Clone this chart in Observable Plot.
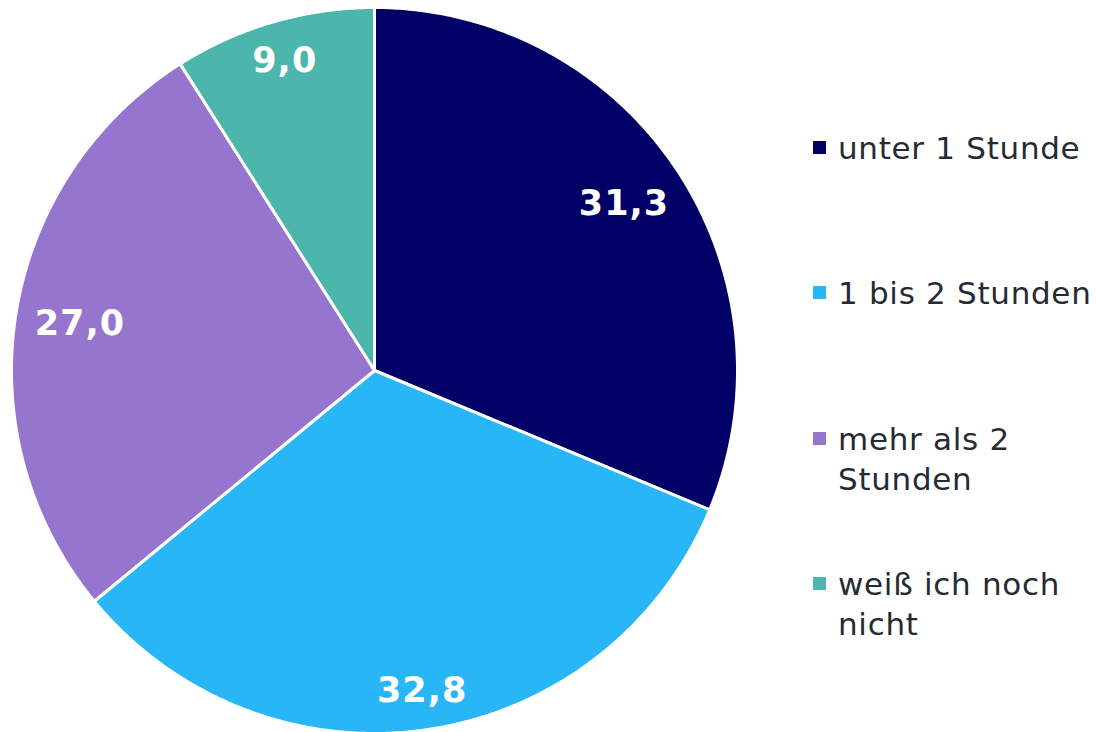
<!DOCTYPE html>
<html>
<head>
<meta charset="utf-8">
<script src="https://cdn.jsdelivr.net/npm/d3@7"></script>
<script src="https://cdn.jsdelivr.net/npm/@observablehq/plot@0.6"></script>
<style>
  html, body { margin: 0; padding: 0; background: #fff; }
  #wrap { position: relative; width: 1096px; height: 732px; overflow: hidden; font-family: "DejaVu Sans", Verdana, sans-serif; }
  #chart svg { display: block; }
  #chart text { letter-spacing: 1px; }
  .legend { position: absolute; left: 813px; top: 128px; color: #262b33; font-size: 31px; line-height: 40px; letter-spacing: 0.7px; }
  .item { position: absolute; left: 0; width: 280px; }
  .sw { position: absolute; left: 0; top: 13px; width: 13px; height: 13px; }
  .lab { position: absolute; left: 25px; top: 0; white-space: nowrap; }
</style>
</head>
<body>
<div id="wrap">
  <div id="chart"></div>
  <div class="legend" id="legend"></div>
</div>
<script>
// ---- data ----
const categories = ["unter 1 Stunde", "1 bis 2 Stunden", "mehr als 2 Stunden", "weiß ich noch nicht"];
const legendLines = [["unter 1 Stunde"], ["1 bis 2 Stunden"], ["mehr als 2", "Stunden"], ["weiß ich noch", "nicht"]];
const values = [31.3, 32.8, 27.0, 9.0];
const labels = ["31,3", "32,8", "27,0", "9,0"];
const colors = ["#000066", "#29b6f6", "#9575cd", "#4db6ac"];

// ---- geometry derived from data ----
const total = d3.sum(values);
const R = 363;            // pixel radius
const cx = 374, cy = 370; // pixel centre
const fontSize = 35;

let acc = 0;
const slices = values.map((v, i) => {
  const a0 = acc / total * 2 * Math.PI;
  acc += v;
  const a1 = acc / total * 2 * Math.PI;
  return {cat: categories[i], v, a0, a1, label: labels[i]};
});

// polygon points for each slice (centre -> arc -> centre)
const pts = [];
for (const s of slices) {
  pts.push({cat: s.cat, x: 0, y: 0});
  const n = Math.max(2, Math.ceil((s.a1 - s.a0) / (Math.PI / 360)));
  for (let k = 0; k <= n; k++) {
    const a = s.a0 + (s.a1 - s.a0) * k / n;
    pts.push({cat: s.cat, x: Math.sin(a), y: Math.cos(a)});
  }
  pts.push({cat: s.cat, x: 0, y: 0});
}

// label positions: "inside end" style
const labelPts = slices.map(s => {
  const m = (s.a0 + s.a1) / 2;
  const w = s.label.split("").reduce((t, c) => t + (c === "," ? 0.38 : 0.696), 0) * fontSize;
  const h = 0.73 * fontSize;
  const rPix = R - 20 - (Math.abs(Math.sin(m)) * w / 2 + Math.abs(Math.cos(m)) * h / 2);
  const r = rPix / R;
  return {label: s.label, x: r * Math.sin(m), y: r * Math.cos(m)};
});

const plot = Plot.plot({
  width: 1096,
  height: 732,
  margin: 0,
  x: {domain: [-1, 1], range: [cx - R, cx + R], axis: null},
  y: {domain: [-1, 1], range: [cy + R, cy - R], axis: null},
  color: {domain: categories, range: colors},
  style: {fontFamily: "'DejaVu Sans', Verdana, sans-serif", background: "white"},
  marks: [
    Plot.line(pts, {x: "x", y: "y", z: "cat", fill: "cat", stroke: "white", strokeWidth: 3, strokeLinejoin: "round", curve: "linear"}),
    Plot.text(labelPts, {x: "x", y: "y", text: "label", fill: "white", fontSize: fontSize, fontWeight: "bold", textAnchor: "middle", lineAnchor: "middle"})
  ]
});
document.getElementById("chart").appendChild(plot);

// ---- legend ----
const leg = document.getElementById("legend");
const spacing = 145.3;
categories.forEach((c, i) => {
  const it = document.createElement("div");
  it.className = "item";
  it.style.top = (i * spacing) + "px";
  const sw = document.createElement("div");
  sw.className = "sw";
  sw.style.background = colors[i];
  const lab = document.createElement("div");
  lab.className = "lab";
  lab.innerHTML = legendLines[i].join("<br>");
  it.appendChild(sw);
  it.appendChild(lab);
  leg.appendChild(it);
});
</script>
</body>
</html>
